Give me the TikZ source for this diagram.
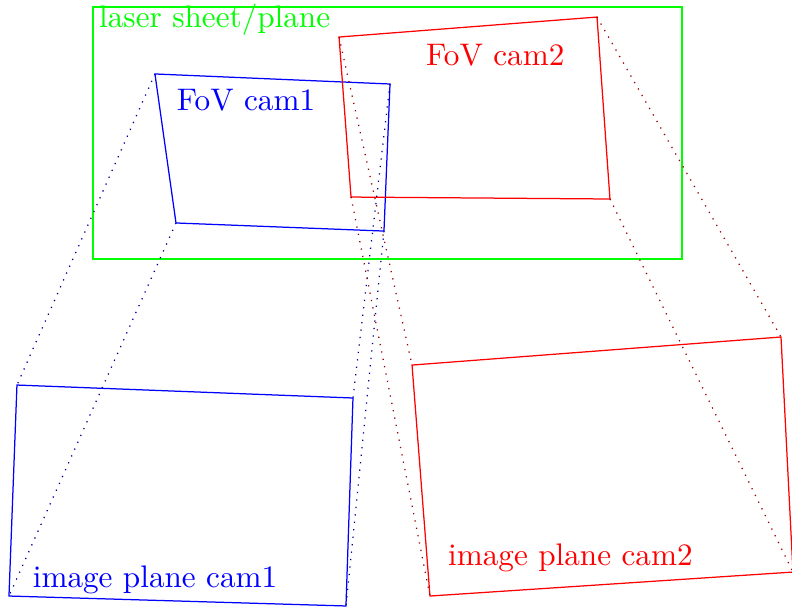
\documentclass[tikz,border=0pt]{standalone}
\usepackage{amsmath}
\usepackage{amssymb}
\usepackage{tikz}

\begin{document}
\begin{tikzpicture}
    \useasboundingbox (0,0) rectangle (8.919,6.847);
    \tikzset{lbl/.style={anchor=base west, inner sep=0pt}}

    % Laser sheet
    \coordinate (sheetA) at (1.047,6.768);
    \coordinate (sheetB) at (7.680,3.930);
    \draw[green] (sheetA) rectangle (sheetB);
    \node[lbl, green] (sheet) at (1.110,6.532) {laser sheet/plane};

    % FoV cam1
    \coordinate (fovAtl) at (1.745,6.014);
    \coordinate (fovAtr) at (4.392,5.901);
    \coordinate (fovAbr) at (4.324,4.245);
    \coordinate (fovAbl) at (1.982,4.336);
    \draw[blue] (fovAtl) -- (fovAtr) -- (fovAbr) -- (fovAbl) -- cycle;
    \node[lbl, blue] (fovA) at (1.985,5.597) {FoV cam1};

    % FoV cam2
    \coordinate (fovBtl) at (3.818,6.430);
    \coordinate (fovBtr) at (6.723,6.655);
    \coordinate (fovBbr) at (6.869,4.606);
    \coordinate (fovBbl) at (3.953,4.628);
    \draw[red] (fovBtl) -- (fovBtr) -- (fovBbr) -- (fovBbl) -- cycle;
    \node[lbl, red] (fovB) at (4.792,6.107) {FoV cam2};

    % Image plane cam1
    \coordinate (imgAtl) at (0.191,2.511);
    \coordinate (imgAtr) at (3.975,2.365);
    \coordinate (imgAbr) at (3.896,0.023);
    \coordinate (imgAbl) at (0.101,0.135);
    \draw[blue] (imgAtl) -- (imgAtr) -- (imgAbr) -- (imgAbl) -- cycle;
    \node[lbl, blue] (imgA) at (0.363,0.233) {image plane cam1};

    % Image plane cam2
    \coordinate (imgBtl) at (4.640,2.736);
    \coordinate (imgBtr) at (8.795,3.052);
    \coordinate (imgBbr) at (8.930,0.405);
    \coordinate (imgBbl) at (4.842,0.135);
    \draw[red] (imgBtl) -- (imgBtr) -- (imgBbr) -- (imgBbl) -- cycle;
    \node[lbl, red] (imgB) at (5.040,0.484) {image plane cam2};

    % Projection lines
    \foreach \c in {tl,tr,br,bl} {
        \draw[dotted, blue!60!black] (fovA\c) -- (imgA\c);
        \draw[dotted, red!60!black] (fovB\c) -- (imgB\c);
    }
\end{tikzpicture}
\end{document}
